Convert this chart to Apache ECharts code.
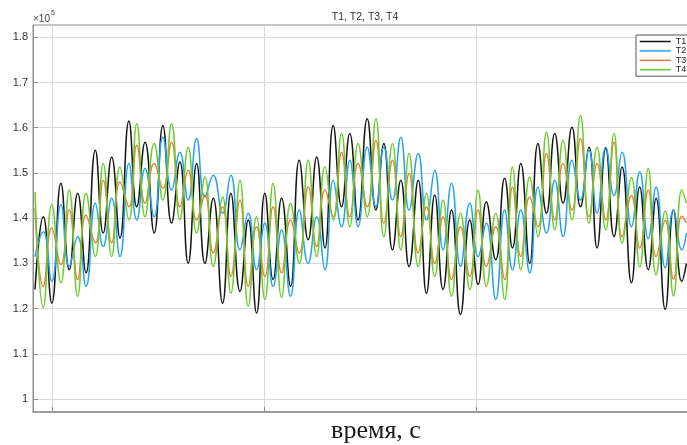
<!DOCTYPE html>
<html><head><meta charset="utf-8">
<script src="https://cdn.jsdelivr.net/npm/echarts@6/dist/echarts.min.js"></script>
<style>html,body{margin:0;padding:0;background:#fff}#c{width:687px;height:445px}</style>
</head><body><div id="c"></div>
<script>
// time, s (extrema positions)
const time = [0.921,0.960,1.000,1.043,1.082,1.122,1.161,1.205,1.242,1.282,1.321,1.363,1.400,1.439,1.482,1.523,1.564,1.603,1.642,1.682,1.721,1.760,1.804,1.843,1.886,1.925,1.964,
2.003,2.042,2.082,2.124,2.165,2.207,2.247,2.286,2.325,2.364,2.403,2.442,2.485,2.526,2.563,2.604,2.643,2.682,2.725,2.764,2.803,2.842,2.882,2.924,2.968,
3.007,3.046,3.090,3.132,3.169,3.208,3.250,3.289,3.329,3.368,3.407,3.449,3.489,3.529,3.567,3.608,3.647,3.685,3.729,3.768,3.808,3.845,3.888,3.927,3.966,3.988];
// values in units of 1e5
const T1 = [1.242,1.403,1.212,1.477,1.286,1.455,1.279,1.550,1.367,1.535,1.356,1.615,1.425,1.568,1.367,1.605,1.389,1.524,1.300,1.521,1.300,1.444,1.212,1.455,1.238,1.396,1.190,
1.455,1.264,1.444,1.249,1.528,1.352,1.535,1.334,1.605,1.425,1.587,1.396,1.620,1.418,1.565,1.330,1.484,1.293,1.484,1.234,1.451,1.242,1.418,1.187,1.396,
1.253,1.436,1.308,1.488,1.334,1.521,1.300,1.565,1.411,1.587,1.433,1.601,1.425,1.557,1.334,1.554,1.359,1.513,1.257,1.469,1.286,1.444,1.198,1.418,1.260,1.300];
const T2 = [1.315,1.370,1.260,1.430,1.293,1.359,1.249,1.433,1.337,1.444,1.315,1.521,1.396,1.510,1.403,1.579,1.462,1.546,1.440,1.576,1.447,1.495,1.411,1.495,1.330,1.411,1.286,
1.389,1.249,1.374,1.227,1.418,1.300,1.403,1.286,1.484,1.381,1.528,1.381,1.557,1.425,1.557,1.440,1.579,1.418,1.543,1.396,1.506,1.330,1.477,1.293,1.433,
1.315,1.389,1.220,1.418,1.286,1.418,1.279,1.469,1.367,1.484,1.359,1.528,1.440,1.550,1.411,1.557,1.450,1.546,1.381,1.502,1.355,1.469,1.290,1.418,1.330,1.367];
const T3 = [1.422,1.249,1.378,1.297,1.418,1.264,1.407,1.345,1.484,1.345,1.480,1.425,1.561,1.433,1.521,1.466,1.568,1.425,1.506,1.396,1.451,1.323,1.425,1.271,1.440,1.249,1.381,
1.271,1.425,1.279,1.396,1.323,1.469,1.337,1.462,1.403,1.546,1.403,1.521,1.425,1.572,1.389,1.528,1.359,1.499,1.323,1.425,1.300,1.403,1.264,1.381,1.271,
1.418,1.293,1.381,1.264,1.469,1.315,1.447,1.381,1.543,1.396,1.521,1.418,1.576,1.403,1.521,1.396,1.568,1.359,1.450,1.334,1.462,1.315,1.395,1.265,1.405,1.390];
const T4 = [1.458,1.203,1.430,1.257,1.462,1.227,1.455,1.315,1.521,1.315,1.513,1.396,1.609,1.403,1.565,1.440,1.609,1.396,1.557,1.367,1.491,1.293,1.447,1.234,1.484,1.205,1.403,
1.220,1.477,1.225,1.433,1.300,1.528,1.315,1.513,1.396,1.587,1.381,1.565,1.403,1.620,1.359,1.565,1.330,1.543,1.293,1.455,1.271,1.440,1.227,1.411,1.242,
1.462,1.249,1.411,1.220,1.513,1.286,1.491,1.359,1.590,1.374,1.572,1.396,1.627,1.389,1.557,1.374,1.587,1.345,1.490,1.292,1.510,1.275,1.416,1.228,1.462,1.433];
const seriesNames = ['T1','T2','T3','T4'];
const yTicks = [1,1.1,1.2,1.3,1.4,1.5,1.6,1.7,1.8];
const xTicks = [1,2,3];
const titleText = 'T1, T2, T3, T4';
const xLabel = 'время, с';

const colors = ['#151515','#22a2ee','#f07a3c','#6acc2a'];
const allData = [T1,T2,T3,T4];
const chart = echarts.init(document.getElementById('c'), null, {renderer:'canvas'});
const font = '"Liberation Sans", Arial, Helvetica, sans-serif';
chart.setOption({
  animation:false,
  backgroundColor:'#fff',
  grid:{left:33, top:25, width:656, height:387, containLabel:false, outerBoundsMode:'none',
        show:true, borderColor:'#8e8e8e', borderWidth:1, backgroundColor:'transparent'},
  xAxis:{type:'value', min:0.9115, max:4.0,
    axisLine:{show:true, lineStyle:{color:'#8e8e8e', width:1.5}},
    axisTick:{show:true, inside:true, length:5, customValues:xTicks, lineStyle:{color:'#8e8e8e'}},
    axisLabel:{show:false, customValues:xTicks},
    splitLine:{show:true, lineStyle:{color:'#d8d8d8', width:1}}},
  yAxis:{type:'value', min:0.9712, max:1.8272,
    axisLine:{show:true, lineStyle:{color:'#8e8e8e', width:1}},
    axisTick:{show:true, inside:true, length:5, customValues:yTicks, lineStyle:{color:'#8e8e8e'}},
    axisLabel:{show:true, customValues:yTicks, margin:5, fontSize:11, color:'#333', fontFamily:font,
      formatter:v=>String(+(+v).toFixed(1))},
    splitLine:{show:true, lineStyle:{color:'#d8d8d8', width:1}}},
  legend:{data:seriesNames, orient:'vertical', left:636, top:35, itemWidth:31, itemHeight:10, itemGap:0.4,
    padding:[2,4,2,3], backgroundColor:'#fff', borderColor:'#555', borderWidth:1,
    itemStyle:{opacity:0}, lineStyle:{width:1.5},
    textStyle:{fontSize:9, color:'#222', fontFamily:font}},
  graphic:[
    {type:'text', x:365, y:12, style:{text:titleText, font:'10.5px '+font, fill:'#333', textAlign:'center', textVerticalAlign:'top'}},
    {type:'text', x:33, y:14, style:{text:'×10', font:'10px '+font, fill:'#444', textAlign:'left', textVerticalAlign:'top'}},
    {type:'text', x:51, y:10, style:{text:'5', font:'7px '+font, fill:'#444', textAlign:'left', textVerticalAlign:'top'}},
    {type:'text', x:376, y:431, style:{text:xLabel, font:'26px "Liberation Serif", "Times New Roman", serif', fill:'#1a1a1a', textAlign:'center', textVerticalAlign:'middle'}}
  ],
  series: seriesNames.map((n,k)=>({
    name:n, type:'line', smooth:0.5, symbol:'none', showSymbol:false, clip:true,
    color:colors[k], lineStyle:{width:1.5, color:colors[k]},
    data: time.map((t,i)=>[t, allData[k][i]])
  }))
});
</script></body></html>
